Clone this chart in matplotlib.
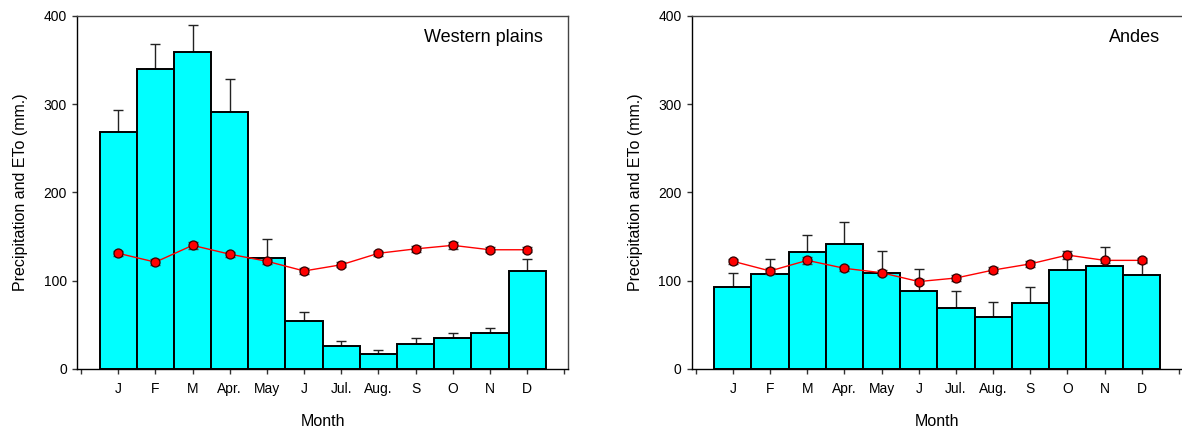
import numpy as np
import matplotlib.pyplot as plt

plt.rcParams['font.family'] = ['Liberation Sans', 'DejaVu Sans']

months = ['J', 'F', 'M', 'Apr.', 'May', 'J', 'Jul.', 'Aug.', 'S', 'O', 'N', 'D']

# Western plains
wp_precip = [268, 340, 359, 291, 126, 54, 26, 17, 28, 35, 41, 111]
wp_precip_top = [293, 368, 390, 328, 147, 65, 32, 21, 35, 41, 46, 124]
wp_eto = [131, 121, 140, 130, 122, 111, 118, 131, 136, 140, 135, 135]
wp_eto_err = [3, 3, 4, 3, 3, 3, 3, 3, 3, 4, 3, 3]

# Andes
an_precip = [93, 108, 132, 141, 109, 88, 69, 59, 75, 112, 117, 106]
an_precip_top = [109, 124, 152, 166, 134, 113, 88, 76, 93, 129, 138, 121]
an_eto = [122, 111, 123, 114, 109, 99, 103, 112, 119, 129, 123, 123]
an_eto_err = [3, 3, 4, 3, 3, 3, 3, 3, 3, 5, 3, 3]

W, H = 1182, 437
fig = plt.figure(figsize=(W / 100, H / 100), dpi=100)


def panel(rect, precip, top, eto, eto_err, title, tx):
    ax = fig.add_axes(rect)
    x = np.arange(1, 13)
    precip = np.array(precip)
    err = np.array(top) - precip
    ax.errorbar(x, precip, yerr=[np.zeros(12), err], fmt='none',
                ecolor='#222222', elinewidth=1, capsize=3.6, capthick=1, zorder=1)
    ax.bar(x, precip, width=1.0, color='#00FFFF', edgecolor='black',
           linewidth=1.4, zorder=2)
    ax.errorbar(x, eto, yerr=eto_err, fmt='none', ecolor='#444444',
                elinewidth=1, capsize=3.6, capthick=1, zorder=3)
    ax.plot(x, eto, color='red', linewidth=1, marker='o', markersize=6.5,
            markerfacecolor='red', markeredgecolor='#330000',
            markeredgewidth=0.9, zorder=4)
    ax.set_xlim(-0.1, 13.1)
    ax.set_ylim(0, 400)
    ax.set_xticks(np.arange(0, 14))
    ax.set_xticklabels([''] + months + [''])
    ax.set_yticks([0, 100, 200, 300, 400])
    ax.tick_params(axis='both', direction='out', length=3.5, width=1,
                   labelsize=10, color='#333333')
    ax.tick_params(axis='x', pad=6)
    ax.tick_params(axis='y', pad=4)
    ax.set_xlabel('Month', fontsize=11.5, labelpad=13)
    ax.set_ylabel('Precipitation and ETo (mm.)', fontsize=11.5, labelpad=11)
    for s in ax.spines.values():
        s.set_linewidth(1)
    ax.spines['top'].set_color('#444444')
    ax.spines['right'].set_color('#444444')
    ax.text(tx, 0.937, title, transform=ax.transAxes, ha='right', va='center',
            fontsize=13)
    return ax


ax_w = 490.7 / W
ax_b = 1 - 369 / H
ax_h = 353.3 / H
panel([77.3 / W, ax_b, ax_w, ax_h], wp_precip, wp_precip_top, wp_eto,
      wp_eto_err, 'Western plains', 1 - 25 / 490.7)
ax2 = panel([692 / W, ax_b, ax_w, ax_h], an_precip, an_precip_top, an_eto,
            an_eto_err, 'Andes', 1 - 23 / 490.7)
ax2.spines['right'].set_visible(False)

fig.savefig('out.png', dpi=100)
